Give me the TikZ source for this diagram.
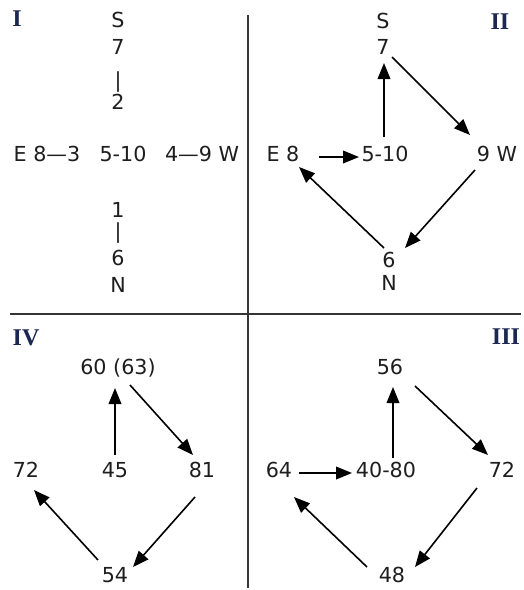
\documentclass[tikz,border=0pt]{standalone}
\usepackage{fontspec}
\setmainfont{DejaVu Sans}
\newfontfamily\romfont{Liberation Serif}
\usetikzlibrary{arrows.meta,calc}
\definecolor{navy}{HTML}{1C2752}
\definecolor{ink}{HTML}{1E1E1E}
\tikzset{
  lbl/.style={inner sep=0pt, text height=0.73em, text depth=0pt, font=\fontsize{15.5}{18}\selectfont, text=ink},
  quadnum/.style={inner sep=0pt, text height=0.66em, text depth=0pt, font=\romfont\bfseries\fontsize{18}{20}\selectfont, text=navy},
  arr/.style={line width=1.2pt, draw=black, -{Triangle[length=12pt,width=9.5pt]}},
  divider/.style={line width=1.2pt, draw=ink!90}
}
\begin{document}
\begin{tikzpicture}[x=0.75pt,y=-0.75pt]
\useasboundingbox (0,0) rectangle (524,590);
\fill[white] (0,0) rectangle (524,590);
% dividers
\coordinate (vtop) at (248,15);
\coordinate (vbot) at (248,588);
\coordinate (hl) at (10,314);
\coordinate (hr) at (521,314);
\draw[divider] (vtop) -- (vbot);
\draw[divider] (hl) -- (hr);
% quadrant numbers
\node[quadnum] (qI) at (17,22) {I};
\node[quadnum] (qII) at (500,25) {II};
\node[quadnum] (qIV) at (26,341) {IV};
\node[quadnum] (qIII) at (506,340) {III};
% Quadrant I
\node[lbl] (aS) at (118,23) {S};
\node[lbl] (a7) at (118,50) {7};
\node[lbl] (abar1) at (118,83) {|};
\node[lbl] (a2) at (118,105) {2};
\node[lbl] (aE) at (47,157) {E 8—3};
\node[lbl] (aC) at (123,157) {5-10};
\node[lbl] (aW) at (202,157) {4—9 W};
\node[lbl] (a1) at (118,213) {1};
\node[lbl] (abar2) at (118,234) {|};
\node[lbl] (a6) at (118,261) {6};
\node[lbl] (aN) at (118,288) {N};
% Quadrant II
\node[lbl] (bS) at (383,24) {S};
\node[lbl] (b7) at (383,50) {7};
\node[lbl] (bE) at (283,157) {E 8};
\node[lbl] (bC) at (385,157) {5-10};
\node[lbl] (bW) at (497,157) {9 W};
\node[lbl] (b6) at (389,263) {6};
\node[lbl] (bN) at (389,286) {N};
\draw[arr] ($(bE)+(36,0)$) -- ($(bC)+(-26,0)$);
\draw[arr] ($(bC)+(-1,-20)$) -- ($(b7)+(1,13)$);
\draw[arr] ($(b7)+(9,7)$) -- ($(bW)+(-27,-22)$);
\draw[arr] ($(bW)+(-22,13)$) -- ($(b6)+(16,-15)$);
\draw[arr] ($(b6)+(-5,-15)$) -- ($(bE)+(16,10)$);
% Quadrant IV
\node[lbl] (d60) at (118,370) {60 (63)};
\node[lbl] (d45) at (115,473) {45};
\node[lbl] (d72) at (26,473) {72};
\node[lbl] (d81) at (202,473) {81};
\node[lbl] (d54) at (115,578) {54};
\draw[arr] ($(d45)+(0,-18)$) -- ($(d60)+(-3,18)$);
\draw[arr] ($(d60)+(12,15)$) -- ($(d81)+(-9,-18)$);
\draw[arr] ($(d81)+(-7,24)$) -- ($(d54)+(18,-11)$);
\draw[arr] ($(d54)+(-17,-18)$) -- ($(d72)+(8,17)$);
% Quadrant III
\node[lbl] (c56) at (390,370) {56};
\node[lbl] (c64) at (279,473) {64};
\node[lbl] (cC) at (386,473) {40-80};
\node[lbl] (c72) at (502,473) {72};
\node[lbl] (c48) at (392,578) {48};
\draw[arr] ($(c64)+(20,0)$) -- ($(cC)+(-34,0)$);
\draw[arr] ($(cC)+(7,-15)$) -- ($(c56)+(3,17)$);
\draw[arr] ($(c56)+(25,16)$) -- ($(c72)+(-14,-18)$);
\draw[arr] ($(c72)+(-25,15)$) -- ($(c48)+(23,-11)$);
\draw[arr] ($(c48)+(-25,-11)$) -- ($(c64)+(15,24)$);
\end{tikzpicture}
\end{document}
